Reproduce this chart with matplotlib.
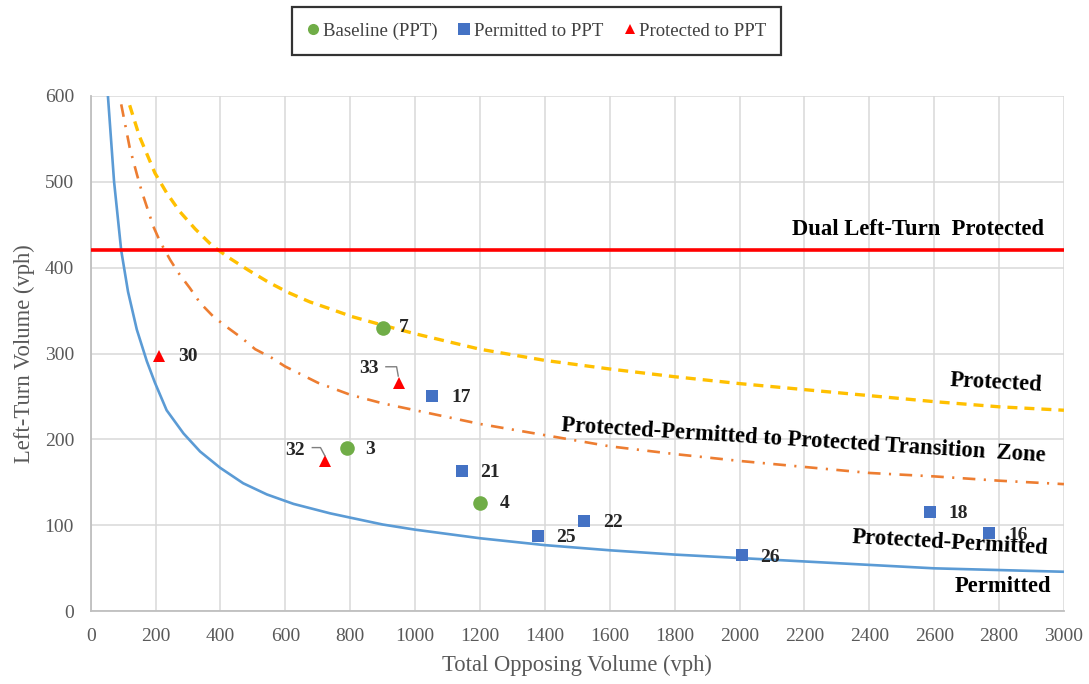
import matplotlib
matplotlib.use('Agg')
import matplotlib.pyplot as plt
import matplotlib.transforms as mtransforms

plt.rcParams['font.family'] = ['Liberation Serif', 'DejaVu Serif']

# threshold curves (opposing vph -> left-turn vph)
permitted_x = [45, 53, 72, 94, 115, 142, 173, 198, 234, 286, 337, 399, 470, 543,
               625, 738, 800, 900, 1000, 1200, 1400, 1600, 1800, 2000, 2200, 2400,
               2600, 2800, 3000]
permitted_y = [700, 600, 500, 420, 372, 328, 291, 266, 234, 207, 186, 167, 149,
               136, 125, 114, 109, 101, 95, 85, 77, 71, 66, 62, 58, 54, 50, 48, 46]

protected_x = [120, 150, 198, 234, 275, 322, 373, 424, 486, 548, 609, 676, 738,
               805, 900, 1000, 1200, 1400, 1600, 1800, 2000, 2200, 2400, 2600,
               2800, 3000]
protected_y = [589, 553, 510, 487, 465, 445, 426, 412, 397, 383, 371, 360, 352,
               343, 333, 323, 305, 292, 282, 273, 265, 258, 251, 244, 238, 234]

transition_x = [94, 120, 142, 157, 193, 214, 245, 270, 306, 337, 378, 419, 466,
                507, 558, 599, 700, 800, 900, 1000, 1200, 1400, 1600, 1800, 2000,
                2200, 2400, 2600, 2800, 3000]
transition_y = [590, 540, 509, 489, 448, 430, 409, 394, 376, 359, 343, 331, 318,
                305, 295, 285, 266, 252, 242, 234, 218, 205, 192, 183, 175, 168,
                161, 157, 152, 148]

dual_x = [0, 3000]
dual_y = [420, 420]

# study sites
baseline_x = [900, 790, 1200]
baseline_y = [330, 190, 126]
baseline_ids = ['7', '3', '4']

perm_x = [1053, 1144, 1380, 1521, 2009, 2587, 2770]
perm_y = [251, 163, 88, 105, 65, 116, 91]
perm_ids = ['17', '21', '25', '22', '26', '18', '16']

prot_x = [211, 951, 722]
prot_y = [297, 266, 175]
prot_ids = ['30', '33', '32']

# label offsets in points
label_off = {'7': (12, 0), '3': (13, -1), '4': (14.5, 0), '17': (14, -1.5),
             '21': (13, -1), '25': (13, -1), '22': (14, -1), '26': (12.7, -1.7),
             '18': (13, -1), '16': (13.7, -2), '30': (14, 0), '33': (-15, 10.4),
             '32': (-14.7, 7.7)}
leaders = {'33': [(-9.6, 11.5), (-1.9, 11.5), (-0.7, 4.8)],
           '32': [(-9.1, 9.6), (-3.2, 9.6), (0, 3.6)]}

fig = plt.figure(figsize=(10.89, 6.84), dpi=100)
ax = fig.add_axes([0.0833, 0.1063, 0.8937, 0.7537])

ax.plot(permitted_x, permitted_y, color='#5b9bd5', lw=1.9, zorder=3)
ax.plot(protected_x, protected_y, color='#ffc000', lw=2.4, dashes=(3, 2.1), zorder=3)
ax.plot(transition_x, transition_y, color='#ed7d31', lw=1.9,
        dashes=(4.8, 3.2, 0.8, 3.2), zorder=3)
ax.plot(dual_x, dual_y, color='#ff0000', lw=2.6, zorder=3)

ax.plot(baseline_x, baseline_y, 'o', color='#70ad47', ms=10.5, mew=0,
        label='Baseline (PPT)', zorder=5)
ax.plot(perm_x, perm_y, 's', color='#4472c4', ms=9, mew=0,
        label='Permitted to PPT', zorder=5)
ax.plot(prot_x, prot_y, '^', color='#ff0000', ms=9, mew=0,
        label='Protected to PPT', zorder=5)

for xs, ys, ids in [(baseline_x, baseline_y, baseline_ids),
                    (perm_x, perm_y, perm_ids),
                    (prot_x, prot_y, prot_ids)]:
    for x, y, s in zip(xs, ys, ids):
        dx, dy = label_off[s]
        ax.annotate(s, (x, y), xytext=(dx, dy), textcoords='offset points',
                    ha='left' if dx > 0 else 'right', va='center',
                    fontsize=14, fontweight='bold', color='#262626', zorder=6)
        if s in leaders:
            tr = (mtransforms.Affine2D().scale(1 / 72) + fig.dpi_scale_trans +
                  mtransforms.ScaledTranslation(x, y, ax.transData))
            px, py = zip(*leaders[s])
            ax.plot(px, py, color='#7f7f7f', lw=1, transform=tr, zorder=6,
                    clip_on=False)

# zone labels
lab = dict(fontsize=16.3, fontweight='bold', color='black', ha='center',
           va='center', rotation_mode='anchor', zorder=6)
ax.text(2551, 444, 'Dual Left-Turn  Protected', **lab)
ax.text(2791, 266, 'Protected', rotation=-3, **lab)
ax.text(2198, 199, 'Protected-Permitted to Protected Transition  Zone',
        rotation=-3.6, **lab)
ax.text(2650, 80, 'Protected-Permitted', rotation=-3.2, **lab)
ax.text(2811, 29, 'Permitted', **lab)

ax.set_xlim(0, 3000)
ax.set_ylim(0, 600)
ax.set_xticks(range(0, 3001, 200))
ax.set_yticks(range(0, 601, 100))
ax.grid(True, color='#d9d9d9', lw=1.1)
ax.set_axisbelow(True)
for side in ['top', 'right']:
    ax.spines[side].set_visible(False)
for side in ['left', 'bottom']:
    ax.spines[side].set_color('#bfbfbf')
    ax.spines[side].set_linewidth(1.3)
ax.tick_params(length=0, labelsize=14, colors='#595959')
ax.tick_params(axis='y', pad=12)
ax.tick_params(axis='x', pad=12)
ax.set_xlabel('Total Opposing Volume (vph)', fontsize=16.3, color='#595959',
              labelpad=7)
ax.set_ylabel('Left-Turn Volume (vph)', fontsize=16.3, color='#595959',
              labelpad=7)

leg = fig.legend(loc='center', bbox_to_anchor=(0.4927, 0.9547), ncol=3,
                 fontsize=13.5, frameon=True, fancybox=False, edgecolor='black',
                 handlelength=0.7, handletextpad=0.15, columnspacing=1.08,
                 borderpad=0.8, labelcolor='#404040')
leg.get_frame().set_linewidth(1.6)
for h, ms in zip(leg.legend_handles, [8, 8, 7]):
    h.set_markersize(ms)

fig.savefig('out.png', dpi=100)
